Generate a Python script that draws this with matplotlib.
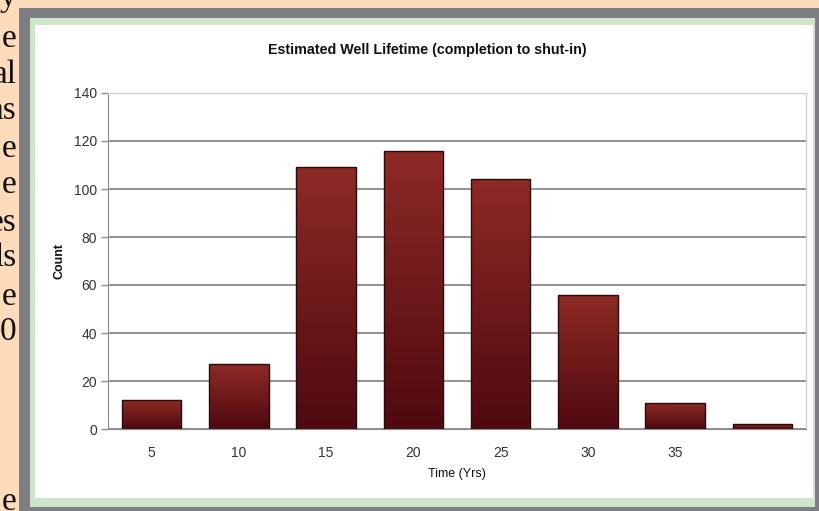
import numpy as np
import matplotlib
matplotlib.use("Agg")
from matplotlib import pyplot as plt
from matplotlib.patches import Rectangle
from matplotlib.colors import LinearSegmentedColormap

# well lifetime histogram
years = ["5", "10", "15", "20", "25", "30", "35", ""]
counts = [12, 27, 109, 116, 104, 56, 11, 2]

# tail ends of the surrounding page text
page_words = ["y", "e", "al", "as", "e", "e", "es", "ls", "e", "0", "e"]
page_baselines = [6, 47, 83, 119, 157, 193, 231, 266, 305, 340, 510]

W, H = 820, 511


def fx(x):
    return x / W


def fy(y):
    return 1 - y / H


def box(x0, y0, x1, y1, color):
    # rectangle given in pixel coords, top-left origin
    fig.patches.append(Rectangle((fx(x0), fy(y1)), fx(x1) - fx(x0), fy(y0) - fy(y1),
                                 transform=fig.transFigure, facecolor=color,
                                 edgecolor="none", zorder=-5))


fig = plt.figure(figsize=(W / 100, H / 100), dpi=100)
fig.patch.set_facecolor("#fddcbc")

# frame: gray border, green mat, white card
box(19, 8, W, H, "#7d7e83")
box(30, 18, 815, 507, "#cde6c9")
box(35, 25, 813, 498, "white")

for word, base in zip(page_words, page_baselines):
    fig.text(fx(16.5), fy(base), word, ha="right", va="baseline",
             fontsize=24, family="Liberation Serif", color="#111111")

ax = fig.add_axes([fx(108), fy(429), fx(806 - 108), fy(93) - fy(429)])
ax.set_facecolor("white")

x = np.arange(len(counts))
bars = ax.bar(x, counts, width=0.68, facecolor="none", edgecolor="#2b0a0a",
              linewidth=1.0, zorder=3)

# per-bar vertical shading, bright red at the top to deep maroon at the base
shade = LinearSegmentedColormap.from_list("shade", ["#4f0910", "#6e1a1a", "#8e2a26"])
grad = np.linspace(0, 1, 256).reshape(-1, 1)
for b in bars:
    x0, w, h = b.get_x(), b.get_width(), b.get_height()
    im = ax.imshow(grad, cmap=shade, origin="lower", aspect="auto",
                   extent=[x0, x0 + w, 0, h], zorder=2)
    im.set_clip_path(b)

ax.set_xlim(-0.5, len(counts) - 0.5)
ax.set_ylim(0, 140)
ax.set_yticks(np.arange(0, 141, 20))
ax.set_xticks(x)
ax.set_xticklabels(years)
ax.yaxis.grid(True, color="#909090", linewidth=1.4, zorder=1)
ax.set_axisbelow(True)

for side in ["top", "right"]:
    ax.spines[side].set_color("#d0d0d0")
    ax.spines[side].set_linewidth(1.0)
ax.spines["left"].set_color("#8a8a8a")
ax.spines["bottom"].set_color("#8a8a8a")
ax.tick_params(axis="y", length=5, color="#8a8a8a", width=1.0, labelsize=10,
               labelcolor="#333333", pad=3)
ax.tick_params(axis="x", length=0, labelsize=10, labelcolor="#333333", pad=12)
for lab in ax.get_xticklabels() + ax.get_yticklabels():
    lab.set_family("Liberation Sans")

ax.set_xlabel("Time (Yrs)", fontsize=9, family="Liberation Sans",
              color="#111111", labelpad=6)
ax.set_ylabel("Count", fontsize=9, family="Liberation Sans",
              color="#111111", labelpad=6, fontweight="bold")

fig.text(fx(427), fy(50), "Estimated Well Lifetime (completion to shut-in)",
         ha="center", va="center", fontsize=10.3, fontweight="bold",
         family="Liberation Sans", color="#111111")

fig.savefig("out.png", dpi=100, facecolor=fig.get_facecolor())
